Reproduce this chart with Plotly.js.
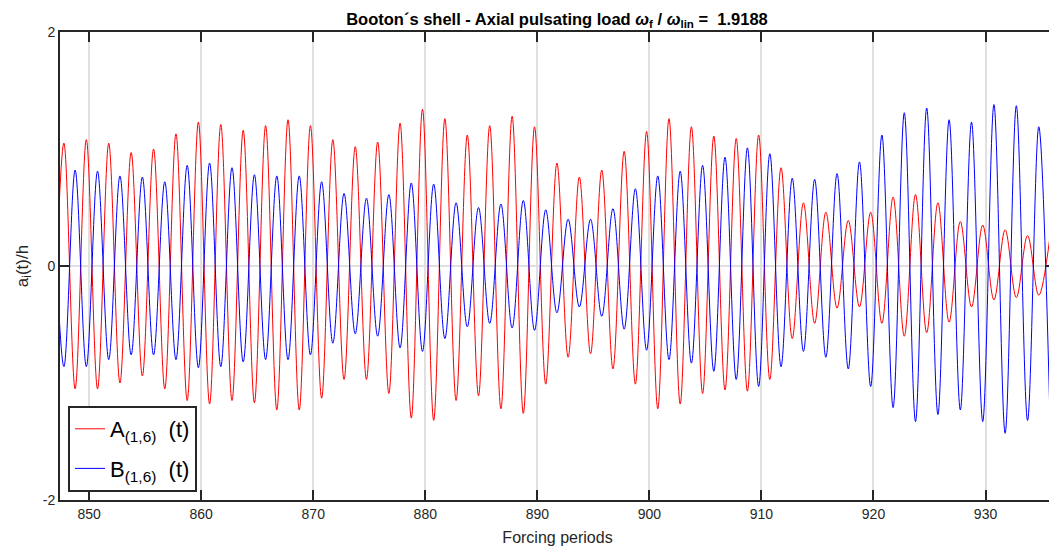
<!DOCTYPE html>
<html>
<head>
<meta charset="utf-8">
<script src="https://cdn.plot.ly/plotly-3.0.1.min.js"></script>
<style>
html, body { margin: 0; padding: 0; overflow: hidden; background: #fff; }
#chart { width: 1060px; height: 550px; }
</style>
</head>
<body>
<div id="chart"></div>
<script>
// Time (forcing periods) of the first extremum; extrema follow every forcing period
const firstExtremumTime = 846.75;
const extremumSpacing = 1;

// A(1,6): troughs (starting before the first peak) and peaks, in time order
const redTroughs = [-1.00,
  -1.05, -1.05, -1.00, -0.94, -1.05, -1.15, -1.18, -1.15, -1.17, -1.23, -1.23,
  -1.13, -0.97, -0.97, -1.09, -1.30, -1.32, -1.15, -1.11, -1.22, -1.26,
  -1.01, -0.78, -0.75, -0.88, -1.01, -1.22, -1.18, -1.09, -1.06, -1.07, -0.97,
  -0.62, -0.49, -0.36, -0.35, -0.49, -0.60, -0.57, -0.48, -0.35, -0.29, -0.27, -0.25];
const redPeaks = [
  1.05, 1.08, 1.05, 0.97, 1.00, 1.13, 1.23, 1.21, 1.16, 1.20, 1.25,
  1.20, 1.08, 1.02, 1.06, 1.22, 1.34, 1.26, 1.12, 1.20, 1.28, 1.19,
  0.88, 0.76, 0.82, 0.98, 1.15, 1.26, 1.19, 1.11, 1.09, 1.12, 0.84,
  0.54, 0.46, 0.39, 0.46, 0.59, 0.61, 0.54, 0.38, 0.35, 0.31, 0.26,
  0.25];

// B(1,6): peaks (starting before the first trough) and troughs, in time order
const bluePeaks = [0.80,
  0.82, 0.81, 0.77, 0.76, 0.72, 0.86, 0.88, 0.84, 0.78, 0.77, 0.77,
  0.72, 0.62, 0.58, 0.61, 0.71, 0.70, 0.54, 0.50, 0.53, 0.56,
  0.48, 0.40, 0.40, 0.49, 0.66, 0.77, 0.81, 0.86, 0.93, 1.01, 0.96,
  0.75, 0.74, 0.79, 0.89, 1.12, 1.31, 1.35, 1.25, 1.23, 1.38, 1.37, 1.19];
const blueTroughs = [
  -0.86, -0.86, -0.80, -0.76, -0.76, -0.80, -0.87, -0.86, -0.82, -0.80, -0.80,
  -0.76, -0.66, -0.58, -0.60, -0.70, -0.73, -0.62, -0.52, -0.49, -0.53, -0.55,
  -0.40, -0.35, -0.43, -0.54, -0.72, -0.80, -0.83, -0.90, -0.97, -1.03, -0.86,
  -0.73, -0.78, -0.88, -1.03, -1.21, -1.33, -1.27, -1.23, -1.33, -1.43, -1.32,
  -1.30];

const xTickVals = [850, 860, 870, 880, 890, 900, 910, 920, 930];
const yTickVals = [-2, 0, 2];

function interleave(first, second) {
  const xs = [], ys = [];
  for (let i = 0; i < first.length; i++) {
    xs.push(firstExtremumTime + 2 * i * extremumSpacing); ys.push(first[i]);
    if (i < second.length) {
      xs.push(firstExtremumTime + (2 * i + 1) * extremumSpacing); ys.push(second[i]);
    }
  }
  return {xs, ys};
}

const red = interleave(redTroughs, redPeaks);
const blue = interleave(bluePeaks, blueTroughs);

const dark = '#262626';
const traces = [
  { x: red.xs, y: red.ys, type: 'scatter', mode: 'lines',
    line: { color: '#ff0000', width: 1, shape: 'spline', smoothing: 1 },
    name: 'A<sub>(1,6)</sub>\u00a0\u00a0(t)', legendgroup: 'a' },
  { x: blue.xs, y: blue.ys, type: 'scatter', mode: 'lines',
    line: { color: '#0000ff', width: 1, shape: 'spline', smoothing: 1 },
    name: 'B<sub>(1,6)</sub>\u00a0\u00a0(t)', legendgroup: 'b' }
];

const layout = {
  width: 1060, height: 550,
  margin: { l: 60, r: 5, t: 32, b: 50 },
  paper_bgcolor: '#ffffff', plot_bgcolor: '#ffffff',
  font: { family: 'Arial, "Liberation Sans", sans-serif', color: dark },
  title: {
    text: '<b>Booton´s shell - Axial pulsating load <i>ω</i><sub>f</sub> / <i>ω</i><sub>lin</sub> =  1.9188</b>',
    font: { size: 16.5, color: '#000000' },
    x: 557 / 1060, xref: 'container', xanchor: 'center',
    y: 1 - 19 / 550, yref: 'container', yanchor: 'middle'
  },
  xaxis: {
    range: [847.4, 936.2],
    tickvals: xTickVals, ticktext: xTickVals.map(String),
    ticks: 'inside', ticklen: 10, tickwidth: 2, tickcolor: dark,
    showline: true, linewidth: 2, linecolor: dark, mirror: 'ticks',
    showgrid: true, gridcolor: '#e0e0e0', gridwidth: 2,
    zeroline: false,
    tickfont: { size: 14, color: dark },
    title: { text: 'Forcing periods', font: { size: 16, color: dark }, standoff: 11 }
  },
  yaxis: {
    range: [-2, 2],
    tickvals: yTickVals, ticktext: yTickVals.map(String),
    ticks: 'inside', ticklen: 10, tickwidth: 2, tickcolor: dark,
    showline: true, linewidth: 2, linecolor: dark, mirror: 'ticks',
    showgrid: true, gridcolor: '#e0e0e0', gridwidth: 2,
    zeroline: false,
    tickfont: { size: 14, color: dark },
    title: { text: 'a<sub>i</sub>(t)/h', font: { size: 17, color: dark }, standoff: 10 }
  },
  showlegend: true,
  legend: {
    x: 8 / 995, xanchor: 'left',
    y: 8 / 468, yanchor: 'bottom',
    bgcolor: '#ffffff', bordercolor: dark, borderwidth: 2,
    font: { size: 22, color: '#000000' },
    tracegroupgap: 8
  }
};

Plotly.newPlot('chart', traces, layout, { staticPlot: true, displayModeBar: false });
</script>
</body>
</html>
